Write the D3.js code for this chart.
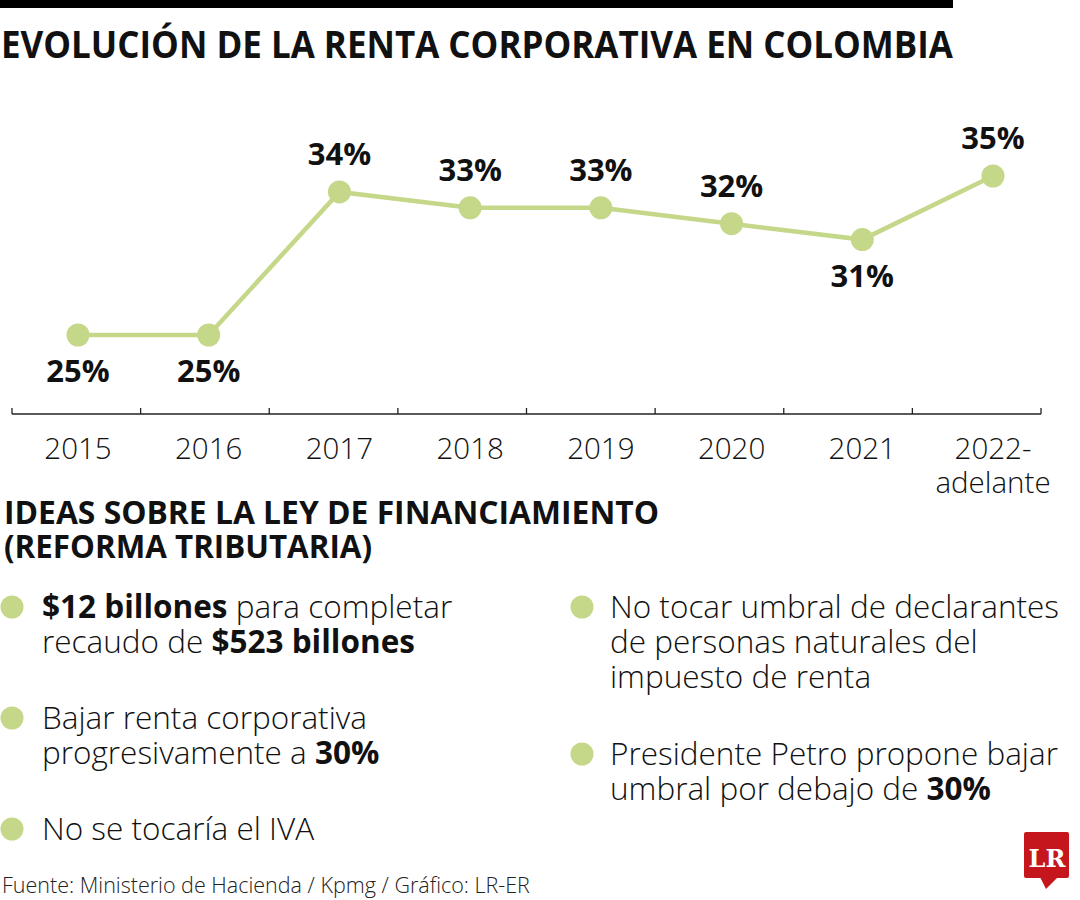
<!DOCTYPE html>
<html><head><meta charset="utf-8">
<script src="https://cdn.jsdelivr.net/npm/d3@7"></script>
<style>body{margin:0;background:#fff}svg{display:block}</style>
</head><body><svg id="c" width="1080" height="900"></svg>
<script>
// ---- data ----
const years = ["2015","2016","2017","2018","2019","2020","2021","2022"];
const tickLabels = [["2015"],["2016"],["2017"],["2018"],["2019"],["2020"],["2021"],["2022-","adelante"]];
const rates = [25,25,34,33,33,32,31,35];
const labelSide = ["below","below","above","above","above","above","below","above"];
const title = "EVOLUCIÓN DE LA RENTA CORPORATIVA EN COLOMBIA";
const subtitle = ["IDEAS SOBRE LA LEY DE FINANCIAMIENTO", "(REFORMA TRIBUTARIA)"];
const bulletsLeft = [
  [[["$12 billones",true],[" para completar",false]],[["recaudo de ",false],["$523 billones",true]]],
  [[["Bajar renta corporativa",false]],[["progresivamente a ",false],["30%",true]]],
  [[["No se tocaría el IVA",false]]]
];
const bulletsRight = [
  [[["No tocar umbral de declarantes",false]],[["de personas naturales del",false]],[["impuesto de renta",false]]],
  [[["Presidente Petro propone bajar",false]],[["umbral por debajo de ",false],["30%",true]]]
];
const source = "Fuente: Ministerio de Hacienda / Kpmg / Gráfico: LR-ER";

// ---- drawing ----
const GREEN = "#c5d788";
const FONT = "'Open Sans', 'Noto Sans', sans-serif";
const svg = d3.select("#c");

svg.append("rect").attr("x",0).attr("y",0).attr("width",953).attr("height",8).attr("fill","#000");
svg.append("text").attr("x",1).attr("y",58).attr("font-family",FONT).attr("font-weight",700)
  .attr("font-size",38).attr("textLength",952).attr("lengthAdjust","spacingAndGlyphs").attr("fill","#111").text(title);

const xBand = d3.scaleBand().domain(years).range([12,1041]);
const x = d3.scalePoint().domain(years).range([78,993]);
const y = d3.scaleLinear().domain([25,35]).range([335,176]);

// axis
const axisY = 414;
const ag = svg.append("g");
ag.append("line").attr("x1",xBand.range()[0]).attr("x2",xBand.range()[1]).attr("y1",axisY).attr("y2",axisY)
  .attr("stroke","#222").attr("stroke-width",1.5);
const tickXs = years.map(d=>xBand(d)).concat([xBand.range()[1]]);
ag.selectAll("line.t").data(tickXs).join("line").attr("class","t")
  .attr("x1",d=>d).attr("x2",d=>d).attr("y1",axisY-6).attr("y2",axisY).attr("stroke","#222").attr("stroke-width",1.3);
ag.selectAll("text.tl").data(years).join("text").attr("class","tl")
  .attr("x",d=>x(d)).attr("y",459).attr("text-anchor","middle").attr("font-family",FONT).attr("font-weight",300)
  .attr("font-size",29.5).attr("fill","#111")
  .each(function(d,i){
    const t=d3.select(this);
    tickLabels[i].forEach((s,j)=>t.append("tspan").attr("x",x(d)).attr("dy",j?34:0).text(s));
  });

// line
const pts = years.map((d,i)=>({yr:d,v:rates[i],side:labelSide[i]}));
svg.append("path").datum(pts).attr("d",d3.line().x(d=>x(d.yr)).y(d=>y(d.v)))
  .attr("fill","none").attr("stroke",GREEN).attr("stroke-width",4.5);
svg.selectAll("circle.p").data(pts).join("circle").attr("class","p")
  .attr("cx",d=>x(d.yr)).attr("cy",d=>y(d.v)).attr("r",11.5).attr("fill",GREEN);
svg.selectAll("text.v").data(pts).join("text").attr("class","v")
  .attr("x",d=>x(d.yr)).attr("y",d=>y(d.v)+(d.side==="below"?47:-27))
  .attr("text-anchor","middle").attr("font-family",FONT).attr("font-weight",700).attr("font-size",31).attr("fill","#111")
  .text(d=>d.v+"%");

// subtitle
subtitle.forEach((s,i)=>{
  svg.append("text").attr("x",4).attr("y",524+i*34).attr("font-family",FONT).attr("font-weight",700)
    .attr("font-size",32).attr("fill","#111").attr("textLength",i?368:655).attr("lengthAdjust","spacingAndGlyphs").text(s);
});

// bullets
function drawBullets(list, cx, tx, baselines){
  list.forEach((b,i)=>{
    const by = baselines[i];
    svg.append("circle").attr("cx",cx).attr("cy",by-11).attr("r",11.5).attr("fill",GREEN);
    b.forEach((line,j)=>{
      const t = svg.append("text").attr("x",tx).attr("y",by+j*35).attr("font-family",FONT)
        .attr("font-size",31.5).attr("fill","#111");
      line.forEach(([s,bold])=>t.append("tspan").attr("font-weight",bold?700:300).text(s));
    });
  });
}
drawBullets(bulletsLeft, 12, 42, [618,729,840]);
drawBullets(bulletsRight, 582, 610, [618,765]);

// source
svg.append("text").attr("x",2).attr("y",893).attr("font-family",FONT).attr("font-weight",300)
  .attr("font-size",21.5).attr("fill","#222").text(source);

// LR logo
const lg = svg.append("g");
lg.append("rect").attr("x",1024).attr("y",832).attr("width",45).attr("height",46).attr("rx",2).attr("fill","#c4161c");
lg.append("path").attr("d","M1040,877 L1058,877 L1046,889 Z").attr("fill","#c4161c");
lg.append("text").attr("x",1047).attr("y",867).attr("text-anchor","middle").attr("font-family","'DejaVu Serif', 'Liberation Serif', serif")
  .attr("font-weight",700).attr("font-size",24).attr("fill","#fff").text("LR");
</script></body></html>
